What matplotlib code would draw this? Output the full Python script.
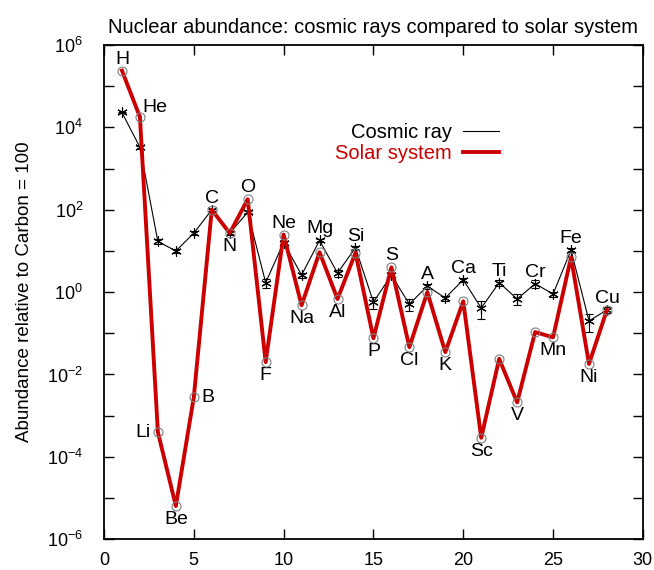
import numpy as np
import matplotlib
matplotlib.use("Agg")
import matplotlib.pyplot as plt
from matplotlib.lines import Line2D

plt.rcParams['font.family'] = ['Liberation Sans', 'DejaVu Sans']
plt.rcParams['mathtext.fontset'] = 'custom'
plt.rcParams['mathtext.rm'] = 'Liberation Sans'
plt.rcParams['mathtext.it'] = 'Liberation Sans'

# atomic number, element symbol
z = list(range(1, 29))
symbols = ['H', 'He', 'Li', 'Be', 'B', 'C', 'N', 'O', 'F', 'Ne', 'Na', 'Mg', 'Al', 'Si',
           'P', 'S', 'Cl', 'A', 'K', 'Ca', 'Sc', 'Ti', 'V', 'Cr', 'Mn', 'Fe', 'Ni', 'Cu']

# abundances relative to carbon = 100
cosmic = [2.3e4, 3.3e3, 17, 10, 27, 100, 27, 87, 1.7, 16, 2.6, 18, 2.9, 12,
          0.57, 2.6, 0.51, 1.4, 0.72, 2.0, 0.41, 1.7, 0.68, 1.6, 0.9, 10.5, 0.2, 0.37]
cosmic_relerr = [0.05, 0.08, 0.15, 0.12, 0.1, 0.05, 0.1, 0.05, 0.25, 0.1, 0.15, 0.08, 0.2, 0.08,
                 0.3, 0.12, 0.3, 0.15, 0.15, 0.1, 0.45, 0.15, 0.3, 0.2, 0.15, 0.1, 0.45, 0.15]
solar = [2.4e5, 1.8e4, 4e-4, 6.4e-6, 2.8e-3, 100, 27, 180, 0.02, 25, 0.48, 9.3, 0.68, 9,
         0.076, 4.0, 0.046, 1.0, 0.035, 0.6, 2.9e-4, 0.024, 2.1e-3, 0.107, 0.08, 7, 0.018, 0.37]

# where each element label goes
label_side = ['above', 'upright', 'left', 'below', 'right', 'above', 'below', 'above', 'below',
              'above', 'below', 'above', 'below', 'above', 'below', 'above', 'below', 'above',
              'below', 'above', 'below', 'above', 'below', 'above', 'below', 'above', 'below',
              'above']

red = '#cc0000'
fs = 14

fig = plt.figure(figsize=(6.54, 5.70), dpi=100)
ax = fig.add_axes([0.159, 0.054, 0.824, 0.867])

cosmic = np.array(cosmic)
yerr = cosmic * np.array(cosmic_relerr)
ax.errorbar(z, cosmic, yerr=yerr, color='black', lw=0.8, elinewidth=0.8, capsize=3,
            capthick=0.8, marker=(6, 2, 0), ms=7.5, mew=0.8, zorder=2)
ax.plot(z, solar, color=red, lw=2.8, zorder=3)
ax.plot(z, solar, ls='none', marker='o', ms=6.5, mfc='none', mec='#808080', mew=0.8, zorder=4)

for i, s in enumerate(symbols):
    side = label_side[i]
    if side == 'above':
        y = max(cosmic[i], solar[i])
        ax.annotate(s, (z[i], y), xytext=(0, 3), textcoords='offset pixels',
                    ha='center', va='bottom', fontsize=fs)
    elif side == 'below':
        y = min(cosmic[i], solar[i])
        ax.annotate(s, (z[i], y), xytext=(0, -5), textcoords='offset pixels',
                    ha='center', va='top', fontsize=fs)
    elif side == 'left':
        ax.annotate(s, (z[i], solar[i]), xytext=(-7, 0), textcoords='offset pixels',
                    ha='right', va='center', fontsize=fs)
    elif side == 'right':
        ax.annotate(s, (z[i], solar[i]), xytext=(8, 0), textcoords='offset pixels',
                    ha='left', va='center', fontsize=fs)
    else:
        ax.annotate(s, (z[i], solar[i]), xytext=(2, 9), textcoords='offset pixels',
                    ha='left', va='center', fontsize=fs)

ax.set_yscale('log')
ax.set_xlim(0, 30)
ax.set_ylim(1e-6, 1e6)
ax.set_xticks(range(0, 31, 5))
decades = [10.0 ** k for k in range(-6, 7)]
ax.set_yticks(decades)
ax.set_yticklabels(['$10^{%d}$' % k if k % 2 == 0 else '' for k in range(-6, 7)])
ax.minorticks_off()
ax.tick_params(direction='in', length=7, width=1, top=True, right=True, labelsize=13)
ax.tick_params(axis='x', pad=9)
ax.tick_params(axis='y', pad=15)
for sp in ax.spines.values():
    sp.set_linewidth(1.3)

ax.set_ylabel('Abundance relative to Carbon = 100', fontsize=13.5, labelpad=10)
ax.set_title('Nuclear abundance: cosmic rays compared to solar system', fontsize=14.5, pad=9)

handles = [Line2D([], [], color='black', lw=0.8), Line2D([], [], color=red, lw=2.8)]
ax.legend(handles, ['Cosmic ray', 'Solar system'], loc='upper right',
          bbox_to_anchor=(0.733, 0.843), markerfirst=False, frameon=False,
          labelcolor=['black', red], fontsize=14.5, handlelength=1.8,
          handletextpad=0.55, labelspacing=0.1, borderaxespad=0, borderpad=0)

fig.savefig('out.png', dpi=100)
